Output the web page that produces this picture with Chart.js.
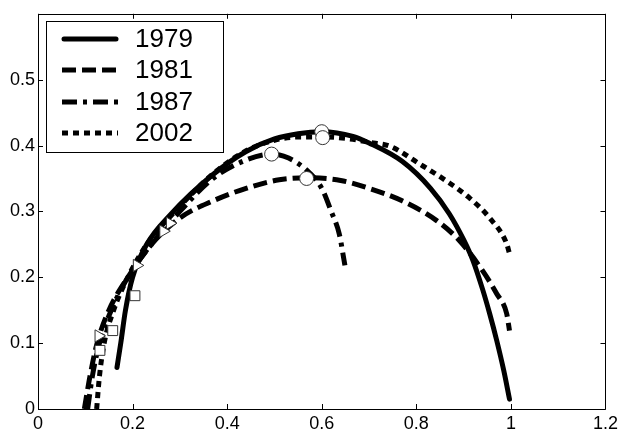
<!DOCTYPE html>
<html>
<head>
<meta charset="utf-8">
<script src="https://cdn.jsdelivr.net/npm/chart.js@4.4.1/dist/chart.umd.min.js"></script>
<style>
html,body{margin:0;padding:0;background:#fff;}
#wrap{width:622px;height:432px;position:relative;}
</style>
</head>
<body>
<div id="wrap"><canvas id="c" width="622" height="432"></canvas></div>
<script>
// ---- data ----
const years = ['1979', '1981', '1987', '2002'];

const x1979 = [0.167, 0.175, 0.185, 0.200, 0.230, 0.280, 0.370, 0.440, 0.500, 0.550, 0.600, 0.666, 0.700, 0.770, 0.830, 0.870, 0.900, 0.920, 0.940, 0.955, 0.970, 0.985, 0.997];
const y1979 = [0.063, 0.100, 0.150, 0.200, 0.250, 0.295, 0.356, 0.391, 0.410, 0.418, 0.421, 0.414, 0.404, 0.376, 0.335, 0.296, 0.257, 0.225, 0.182, 0.145, 0.104, 0.058, 0.015];

const x1981 = [0.098, 0.110, 0.125, 0.150, 0.190, 0.240, 0.300, 0.370, 0.440, 0.510, 0.570, 0.640, 0.700, 0.770, 0.843, 0.892, 0.940, 0.970, 0.991, 0.997];
const y1981 = [0.000, 0.050, 0.100, 0.150, 0.200, 0.250, 0.290, 0.316, 0.335, 0.348, 0.351, 0.347, 0.335, 0.316, 0.286, 0.255, 0.210, 0.175, 0.145, 0.119];

const x1987 = [0.105, 0.115, 0.130, 0.155, 0.190, 0.240, 0.300, 0.370, 0.440, 0.494, 0.530, 0.575, 0.600, 0.620, 0.637, 0.649];
const y1987 = [0.000, 0.050, 0.100, 0.150, 0.200, 0.250, 0.300, 0.350, 0.378, 0.387, 0.381, 0.358, 0.335, 0.300, 0.266, 0.218];

const x2002 = [0.124, 0.130, 0.140, 0.160, 0.190, 0.230, 0.290, 0.370, 0.440, 0.500, 0.550, 0.602, 0.660, 0.700, 0.744, 0.807, 0.864, 0.913, 0.955, 0.991, 0.997];
const y2002 = [0.000, 0.050, 0.100, 0.150, 0.200, 0.250, 0.300, 0.357, 0.392, 0.408, 0.413, 0.413, 0.410, 0.405, 0.399, 0.372, 0.346, 0.320, 0.290, 0.251, 0.236];

const circleX = [0.600, 0.602, 0.494, 0.568];
const circleY = [0.421, 0.412, 0.387, 0.350];
const squareX = [0.205, 0.158, 0.131];
const squareY = [0.172, 0.119, 0.089];
const triX = [0.279, 0.265, 0.209, 0.128];
const triY = [0.282, 0.270, 0.218, 0.111];

const xTicks = [0, 0.2, 0.4, 0.6, 0.8, 1, 1.2];
const yTicks = [0, 0.1, 0.2, 0.3, 0.4, 0.5, 0.6];

// ---- build ----
const pts = (xs, ys) => xs.map((x, i) => ({x: x, y: ys[i]}));
const dashes = [[], [14, 6], [15, 6, 4, 6], [6, 5]];
const seriesX = [x1979, x1981, x1987, x2002];
const seriesY = [y1979, y1981, y1987, y2002];

const lineSets = years.map((yr, i) => ({
  label: yr,
  data: pts(seriesX[i], seriesY[i]),
  borderColor: '#000',
  backgroundColor: '#000',
  borderWidth: 5,
  borderDash: dashes[i],
  borderCapStyle: i === 0 ? 'round' : 'butt',
  pointRadius: 0,
  showLine: true,
  fill: false,
  cubicInterpolationMode: 'monotone',
  order: 1
}));

const markerStyle = {
  showLine: false,
  backgroundColor: '#fff',
  borderColor: '#333',
  borderWidth: 1,
  order: -1,
  isMarker: true
};
const markerSets = [
  Object.assign({label: 'circ', data: pts(circleX, circleY), pointStyle: 'circle', pointRadius: 7}, markerStyle),
  Object.assign({label: 'sq', data: pts(squareX, squareY), pointStyle: 'rect', pointRadius: 7}, markerStyle),
  Object.assign({label: 'tri', data: pts(triX, triY), pointStyle: 'triangle', rotation: 90, pointRadius: 7}, markerStyle)
];

const fmt = v => String(parseFloat(Number(v).toFixed(2)));

const framePlugin = {
  id: 'frame',
  afterDraw(chart) {
    const ctx = chart.ctx, a = chart.chartArea;
    const xs = chart.scales.x, ys = chart.scales.y;
    ctx.save();
    ctx.strokeStyle = '#000';
    ctx.lineWidth = 1;
    ctx.setLineDash([]);
    ctx.beginPath();
    ctx.rect(Math.round(a.left) + 0.5, Math.round(a.top) + 0.5, Math.round(a.right - a.left), Math.round(a.bottom - a.top));
    ctx.stroke();
    const tl = 5;
    ctx.beginPath();
    xTicks.forEach(v => {
      const px = Math.round(xs.getPixelForValue(v)) + 0.5;
      ctx.moveTo(px, a.bottom); ctx.lineTo(px, a.bottom - tl);
      ctx.moveTo(px, a.top); ctx.lineTo(px, a.top + tl);
    });
    yTicks.forEach(v => {
      const py = Math.round(ys.getPixelForValue(v)) + 0.5;
      ctx.moveTo(a.left, py); ctx.lineTo(a.left + tl, py);
      ctx.moveTo(a.right, py); ctx.lineTo(a.right - tl, py);
    });
    ctx.stroke();
    ctx.restore();
  }
};

const legendPlugin = {
  id: 'boxLegend',
  afterDraw(chart) {
    const ctx = chart.ctx;
    const bx = 46, by = 21, bw = 177, bh = 131;
    ctx.save();
    ctx.fillStyle = '#fff';
    ctx.fillRect(bx, by, bw, bh);
    ctx.strokeStyle = '#000';
    ctx.lineWidth = 1;
    ctx.setLineDash([]);
    ctx.strokeRect(bx + 0.5, by + 0.5, bw, bh);
    const rows = [39, 70, 102, 133];
    ctx.font = '26px "Liberation Sans", Arial, sans-serif';
    ctx.textBaseline = 'middle';
    ctx.textAlign = 'left';
    chart.data.datasets.filter(d => !d.isMarker).forEach((d, i) => {
      const yy = rows[i];
      ctx.beginPath();
      ctx.lineWidth = 5;
      ctx.lineCap = i === 0 ? 'round' : 'butt';
      ctx.setLineDash(d.borderDash || []);
      ctx.moveTo(i === 0 ? 64 : 62, yy);
      ctx.lineTo(i === 0 ? 116 : 118, yy);
      ctx.stroke();
      ctx.setLineDash([]);
      ctx.fillStyle = '#000';
      ctx.fillText(d.label, 135, yy + 1);
    });
    ctx.restore();
  }
};

new Chart(document.getElementById('c'), {
  type: 'scatter',
  data: { datasets: markerSets.concat(lineSets) },
  options: {
    responsive: false,
    animation: false,
    layout: { padding: { top: 13, right: 16, left: 0, bottom: 0 } },
    plugins: { legend: { display: false }, tooltip: { enabled: false } },
    scales: {
      x: {
        type: 'linear',
        min: 0, max: 1.2,
        afterBuildTicks: s => { s.ticks = xTicks.map(v => ({value: v})); },
        afterFit: s => { s.height = 23; },
        grid: { display: false, drawTicks: false },
        border: { display: false },
        ticks: {
          color: '#000',
          padding: 4,
          maxRotation: 0,
          autoSkip: false,
          font: { family: '"Liberation Sans", Arial, sans-serif', size: 18 },
          callback: v => fmt(v)
        }
      },
      y: {
        type: 'linear',
        min: 0, max: 0.6,
        afterBuildTicks: s => { s.ticks = yTicks.map(v => ({value: v})); },
        afterFit: s => { s.width = 38; },
        grid: { display: false, drawTicks: false },
        border: { display: false },
        ticks: {
          color: '#000',
          padding: 3,
          autoSkip: false,
          font: { family: '"Liberation Sans", Arial, sans-serif', size: 18 },
          callback: v => (Math.abs(v - 0.6) < 1e-9 ? '' : fmt(v))
        }
      }
    }
  },
  plugins: [framePlugin, legendPlugin]
});
</script>
</body>
</html>
